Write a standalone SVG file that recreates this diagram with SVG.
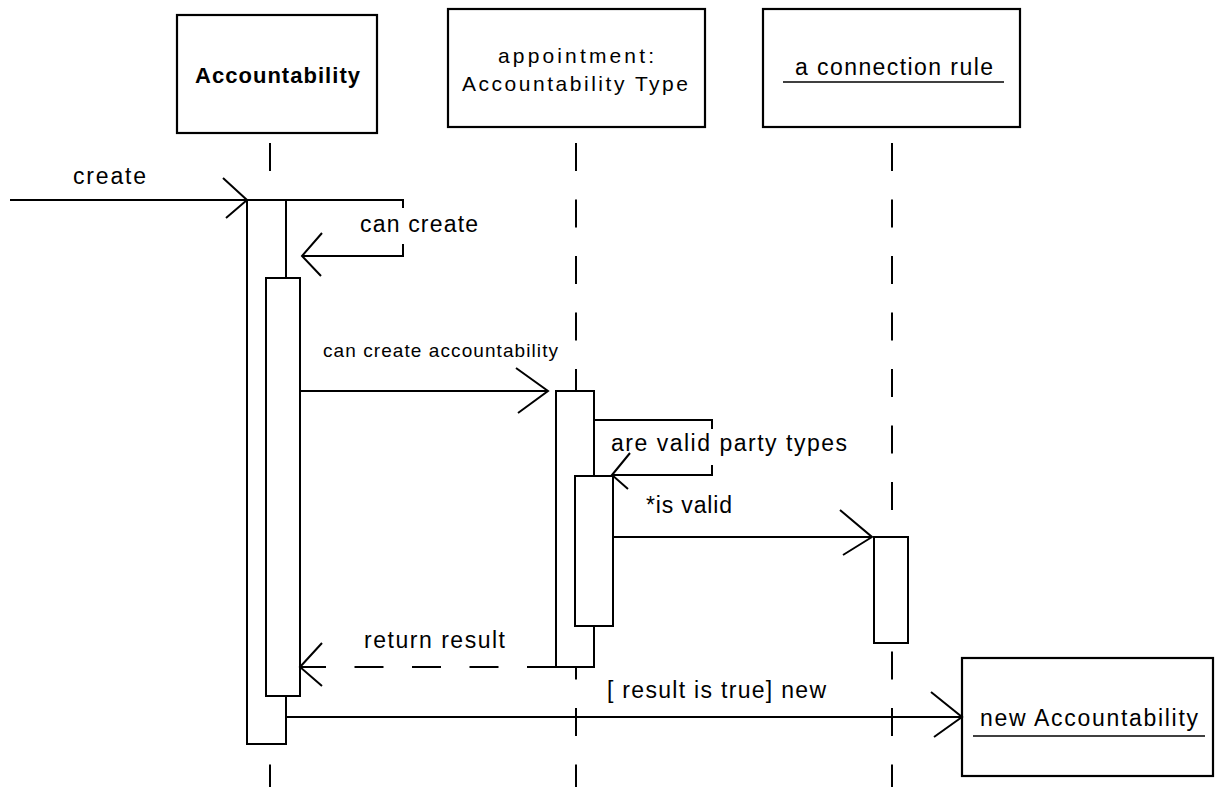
<svg xmlns="http://www.w3.org/2000/svg" width="1216" height="787" viewBox="0 0 1216 787">
<style>
  .box { fill: #fff; stroke: #000; stroke-width: 2.2; }
  .act { fill: #fff; stroke: #000; stroke-width: 2; }
  .life { stroke: #000; stroke-width: 2; stroke-dasharray: 28 28.5; fill: none; }
  .msg { stroke: #000; stroke-width: 2; fill: none; }
  .ret { stroke: #000; stroke-width: 2; fill: none; stroke-dasharray: 29 28.5; }
  .head { stroke: #000; stroke-width: 2; fill: none; }
  .ul { stroke: #000; stroke-width: 1.5; }
  .bg { fill: #fff; stroke: none; }
  text { font-family: "Liberation Sans", Arial, sans-serif; fill: #000; }
  .lbl { font-size: 21px; }
  .bold { font-size: 22px; font-weight: bold; }
  .m { font-size: 23px; }
  .s { font-size: 19px; }
</style>

<g id="lifelines">
  <line class="life" x1="270" y1="143" x2="270" y2="787"/>
  <line class="life" x1="576" y1="143" x2="576" y2="787"/>
  <line class="life" x1="892" y1="143" x2="892" y2="787"/>
</g>

<g id="node-accountability">
  <rect class="box" x="177" y="15" width="200" height="118"/>
  <text class="bold" x="195" y="83" textLength="165" lengthAdjust="spacing">Accountability</text>
</g>

<g id="node-appointment">
  <rect class="box" x="448" y="9" width="257" height="118"/>
  <text class="lbl" x="498" y="63" textLength="156" lengthAdjust="spacing">appointment:</text>
  <text class="lbl" x="462" y="91" textLength="226" lengthAdjust="spacing">Accountability Type</text>
</g>

<g id="node-connection-rule">
  <rect class="box" x="763" y="9" width="257" height="118"/>
  <text class="m" x="795" y="75" textLength="198" lengthAdjust="spacing">a connection rule</text>
  <line class="ul" x1="783" y1="82" x2="1004" y2="82"/>
</g>

<g id="node-new-accountability">
  <rect class="box" x="962" y="658" width="251" height="118"/>
  <text class="m" x="980" y="726" textLength="218" lengthAdjust="spacing">new Accountability</text>
  <line class="ul" x1="973" y1="736" x2="1205" y2="736"/>
</g>

<g id="activations">
  <rect id="act-a1" class="act" x="247" y="200" width="39" height="544"/>
  <rect id="act-a2" class="act" x="266" y="278" width="34" height="418"/>
  <rect id="act-b1" class="act" x="556" y="391" width="38" height="276"/>
  <rect id="act-b2" class="act" x="575" y="476" width="38" height="150"/>
  <rect id="act-c" class="act" x="874" y="537" width="34" height="106"/>
</g>

<g id="connectors">
  <!-- create -->
  <line class="msg" x1="10" y1="200" x2="247" y2="200"/>
  <polyline class="head" points="223,178 247,200 226,218"/>
  <!-- can create (self) -->
  <polyline class="msg" points="286,200 403,200 403,256 302,256"/>
  <polyline class="head" points="322,233 302,256 321,276"/>
  <!-- can create accountability -->
  <line class="msg" x1="300" y1="391" x2="548" y2="391"/>
  <polyline class="head" points="516,368 548,391 518,413"/>
  <!-- are valid party types (self) -->
  <polyline class="msg" points="594,420 712,420 712,475 613,475"/>
  <!-- is valid -->
  <line class="msg" x1="613" y1="537" x2="872" y2="537"/>
  <polyline class="head" points="840,510 872,537 843,555"/>
  <!-- return result -->
  <line class="ret" x1="556" y1="667" x2="300" y2="667"/>
  <polyline class="head" points="322,643 300,667 322,686"/>
  <!-- new -->
  <line class="msg" x1="286" y1="717" x2="962" y2="717"/>
  <polyline class="head" points="931,692 962,717 934,737"/>
</g>

<g id="labels">
  <text class="m" x="73" y="184" textLength="73" lengthAdjust="spacing">create</text>
  <rect class="bg" x="356" y="208" width="126" height="36"/>
  <text class="m" x="360" y="232" textLength="118" lengthAdjust="spacing">can create</text>
  <text class="s" x="323" y="357" textLength="235" lengthAdjust="spacing">can create accountability</text>
  <rect class="bg" x="609" y="429" width="240" height="36"/>
  <text class="m" x="611" y="451" textLength="236" lengthAdjust="spacing">are valid party types</text>
  <text class="m" x="646" y="513" textLength="86" lengthAdjust="spacing">*is valid</text>
  <text class="m" x="364" y="648" textLength="141" lengthAdjust="spacing">return result</text>
  <text class="m" x="607" y="698" textLength="219" lengthAdjust="spacing">[ result is true] new</text>
</g>

<g id="head-overlay">
  <polyline class="head" points="630,453 612,475 628,489"/>
</g>
</svg>
